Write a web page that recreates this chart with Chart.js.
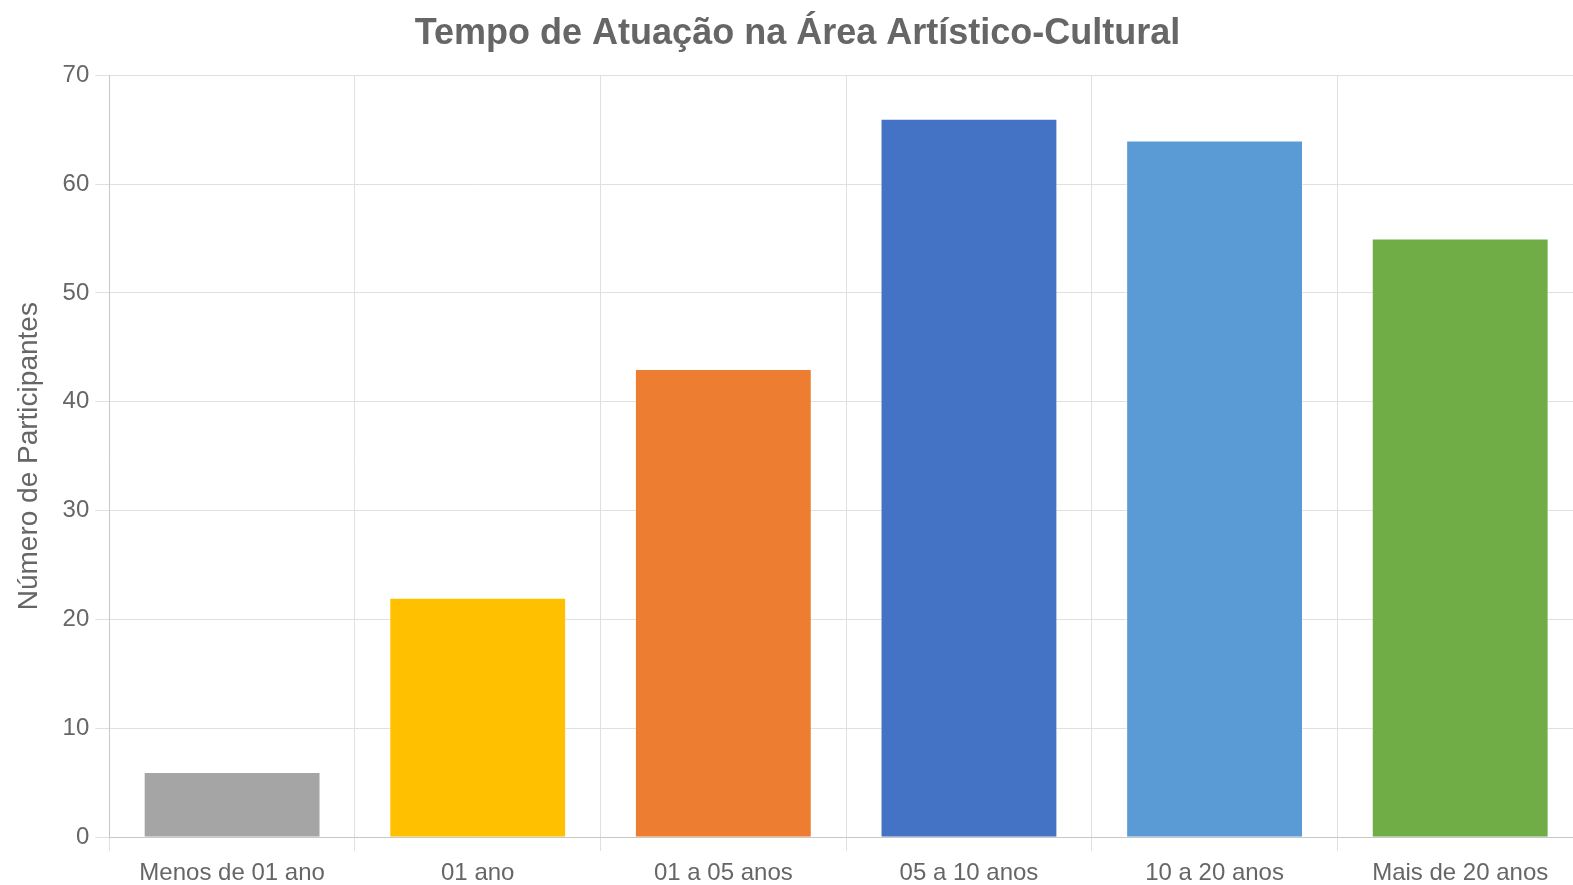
<!DOCTYPE html>
<html>
<head>
<meta charset="utf-8">
<script src="https://cdn.jsdelivr.net/npm/chart.js@4"></script>
<style>
  html, body { margin: 0; padding: 0; background: #fff; overflow: hidden; }
  #wrap { width: 1585px; height: 896px; position: relative; }
</style>
</head>
<body>
<div id="wrap"><canvas id="tempoChart"></canvas></div>
<script>
const categories = ['Menos de 01 ano', '01 ano', '01 a 05 anos', '05 a 10 anos', '10 a 20 anos', 'Mais de 20 anos'];
const participantes = [6, 22, 43, 66, 64, 55];
const barColors = ['#A5A5A5', '#FFC000', '#ED7D31', '#4472C4', '#5B9BD5', '#70AD47'];

Chart.defaults.font.family = '"Liberation Sans", Arial, sans-serif';
Chart.defaults.color = '#666';

const ctx = document.getElementById('tempoChart');
new Chart(ctx, {
    type: 'bar',
    data: {
        labels: categories,
        datasets: [{
            label: 'Número de Participantes',
            data: participantes,
            backgroundColor: barColors,
            borderColor: 'rgba(255,255,255,0.35)',
            borderWidth: 1
        }]
    },
    options: {
        responsive: true,
        maintainAspectRatio: false,
        animation: false,
        layout: { padding: { left: 12, right: 2, top: 0, bottom: 0 } },
        plugins: {
            legend: { display: false },
            tooltip: { enabled: false },
            title: {
                display: true,
                text: 'Tempo de Atuação na Área Artístico-Cultural',
                font: { size: 36, weight: 'bold' },
                color: '#666',
                padding: { top: 12, bottom: 20 }
            }
        },
        scales: {
            x: {
                grid: { color: '#e0e0e0', tickLength: 14, offset: true },
                border: { color: '#c8c8c8' },
                ticks: { font: { size: 24 }, color: '#666', padding: 8 }
            },
            y: {
                min: 0,
                max: 70,
                ticks: { stepSize: 10, font: { size: 24 }, color: '#666', padding: 6 },
                grid: { color: '#e0e0e0', tickLength: 14 },
                border: { color: '#c8c8c8' },
                title: {
                    display: true,
                    text: 'Número de Participantes',
                    font: { size: 28 },
                    color: '#666',
                    padding: { top: 0, bottom: 11 }
                }
            }
        }
    }
});
</script>
</body>
</html>
